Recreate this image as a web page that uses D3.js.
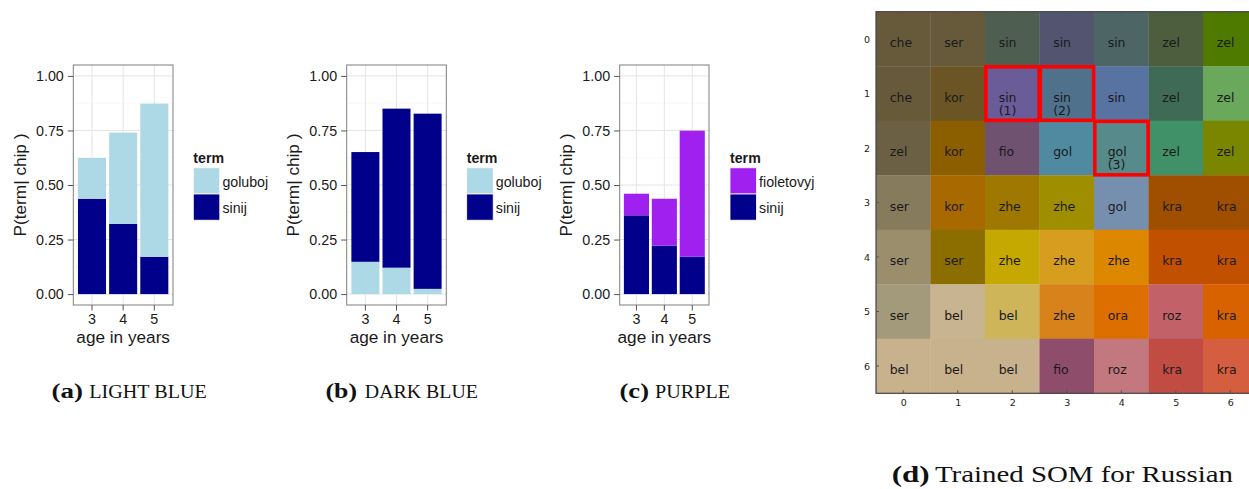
<!DOCTYPE html>
<html>
<head>
<meta charset="utf-8">
<script src="https://cdn.jsdelivr.net/npm/d3@7"></script>
<style>
  html, body { margin: 0; padding: 0; background: #ffffff; }
  svg { display: block; }
</style>
</head>
<body>
<svg id="chart" width="1249" height="489"></svg>
<script>
// ---------------- DATA ----------------
const ages = ["3", "4", "5"];
const yTicks = [0, 0.25, 0.5, 0.75, 1];
const yMinorTicks = [0.125, 0.375, 0.625, 0.875];

// (a) LIGHT BLUE chip
const lightBlueGoluboj = [0.187, 0.418, 0.702];
const lightBlueSinij   = [0.437, 0.322, 0.171];
// (b) DARK BLUE chip
const darkBlueGoluboj  = [0.148, 0.121, 0.024];
const darkBlueSinij    = [0.503, 0.729, 0.803];
// (c) PURPLE chip
const purpleFioletovyj = [0.099, 0.215, 0.578];
const purpleSinij      = [0.361, 0.222, 0.171];

const termColors = { goluboj: "#add8e6", sinij: "#00008b", fioletovyj: "#a020f0" };

const captionsBold = ["(a)", "(b)", "(c)", "(d)"];
const captionsRest = ["LIGHT BLUE", "DARK BLUE", "PURPLE", "Trained SOM for Russian"];

// (d) SOM grid
const somIndex = [0, 1, 2, 3, 4, 5, 6];
const somLabels = [
  ["che", "ser", "sin", "sin", "sin", "zel", "zel"],
  ["che", "kor", "sin\n(1)", "sin\n(2)", "sin", "zel", "zel"],
  ["zel", "kor", "fio", "gol", "gol\n(3)", "zel", "zel"],
  ["ser", "kor", "zhe", "zhe", "gol", "kra", "kra"],
  ["ser", "ser", "zhe", "zhe", "zhe", "kra", "kra"],
  ["ser", "bel", "bel", "zhe", "ora", "roz", "kra"],
  ["bel", "bel", "bel", "fio", "roz", "kra", "kra"]
];
const somColors = [
  ["#675a3b", "#675a3a", "#4e5e50", "#535570", "#4e6566", "#4c5e3e", "#4e7a00"],
  ["#675a3b", "#6c5524", "#6a5c98", "#50718c", "#5872a2", "#3f6b56", "#6aa85b"],
  ["#6c6044", "#8b5e00", "#6e5270", "#4f8aa0", "#578a8a", "#419168", "#7a8600"],
  ["#877b5d", "#a86900", "#9e7800", "#9e8e00", "#778fae", "#a04f00", "#a04f00"],
  ["#9b8e6d", "#8b6d00", "#c6a900", "#d69d1e", "#dd8600", "#c15100", "#c15100"],
  ["#a29a7b", "#c9b491", "#cfb55a", "#d7821a", "#dd6f00", "#c26168", "#d86200"],
  ["#c8b18d", "#c8b18d", "#c8b18d", "#8e4e6b", "#c2787e", "#c14c44", "#d55e40"]
];
const somHighlights = [[1, 2], [1, 3], [2, 4]];

// ---------------- DRAW ----------------
const svg = d3.select("#chart");
const sansFont = "'Liberation Sans', Arial, sans-serif";
const textCol = "#1a1a1a";

const panels = [
  { left: 73.3, right: 173, titleX: 20, legendX: 193.3,
    series: { goluboj: lightBlueGoluboj, sinij: lightBlueSinij },
    stackOrder: ["sinij", "goluboj"], legendOrder: ["goluboj", "sinij"] },
  { left: 346.7, right: 446.3, titleX: 293.3, legendX: 466.7,
    series: { goluboj: darkBlueGoluboj, sinij: darkBlueSinij },
    stackOrder: ["goluboj", "sinij"], legendOrder: ["goluboj", "sinij"] },
  { left: 619.7, right: 709, titleX: 566.3, legendX: 730,
    series: { fioletovyj: purpleFioletovyj, sinij: purpleSinij },
    stackOrder: ["sinij", "fioletovyj"], legendOrder: ["fioletovyj", "sinij"] }
];

const plotTop = 65, plotBottom = 305;
const y = d3.scaleLinear().domain([-0.05, 1.05]).range([plotBottom, plotTop]);

panels.forEach(p => {
  const g = svg.append("g");
  const x = d3.scaleBand().domain(ages).range([p.left, p.right])
    .paddingInner(0.1).paddingOuter(0.15);

  g.append("rect").attr("x", p.left).attr("y", plotTop)
    .attr("width", p.right - p.left).attr("height", plotBottom - plotTop)
    .attr("fill", "#ffffff");

  g.selectAll(null).data(yMinorTicks).enter().append("line")
    .attr("x1", p.left).attr("x2", p.right)
    .attr("y1", d => y(d)).attr("y2", d => y(d))
    .attr("stroke", "#f2f2f2").attr("stroke-width", 0.6);
  g.selectAll(null).data(yTicks).enter().append("line")
    .attr("x1", p.left).attr("x2", p.right)
    .attr("y1", d => y(d)).attr("y2", d => y(d))
    .attr("stroke", "#e5e5e5").attr("stroke-width", 1);
  g.selectAll(null).data(ages).enter().append("line")
    .attr("x1", d => x(d) + x.bandwidth() / 2).attr("x2", d => x(d) + x.bandwidth() / 2)
    .attr("y1", plotTop).attr("y2", plotBottom)
    .attr("stroke", "#e5e5e5").attr("stroke-width", 1);

  const rows = ages.map((a, i) => {
    const r = { age: a };
    Object.keys(p.series).forEach(k => { r[k] = p.series[k][i]; });
    return r;
  });
  const stacked = d3.stack().keys(p.stackOrder)(rows);
  stacked.forEach(layer => {
    g.selectAll(null).data(layer).enter().append("rect")
      .attr("x", d => x(d.data.age))
      .attr("width", x.bandwidth())
      .attr("y", d => y(d[1]))
      .attr("height", d => y(d[0]) - y(d[1]))
      .attr("fill", termColors[layer.key]);
  });

  g.append("rect").attr("x", p.left).attr("y", plotTop)
    .attr("width", p.right - p.left).attr("height", plotBottom - plotTop)
    .attr("fill", "none").attr("stroke", "#7f7f7f").attr("stroke-width", 1);

  const yAxis = d3.axisLeft(y).tickValues(yTicks).tickFormat(d3.format(".2f"))
    .tickSize(5.5).tickPadding(4);
  const ya = g.append("g").attr("transform", `translate(${p.left},0)`).call(yAxis);
  ya.select(".domain").remove();
  ya.selectAll(".tick line").attr("stroke", "#555");
  ya.selectAll(".tick text").attr("font-family", sansFont).attr("font-size", 14.3)
    .attr("fill", textCol);

  const xAxis = d3.axisBottom(x).tickSize(5.5).tickPadding(3);
  const xa = g.append("g").attr("transform", `translate(0,${plotBottom})`).call(xAxis);
  xa.select(".domain").remove();
  xa.selectAll(".tick line").attr("stroke", "#555");
  xa.selectAll(".tick text").attr("font-family", sansFont).attr("font-size", 14.3)
    .attr("fill", textCol);

  g.append("text").attr("x", (p.left + p.right) / 2).attr("y", 343)
    .attr("text-anchor", "middle").attr("font-family", sansFont).attr("font-size", 17.2)
    .attr("fill", textCol).text("age in years");
  g.append("text")
    .attr("transform", `translate(${p.titleX + 6},${(plotTop + plotBottom) / 2}) rotate(-90)`)
    .attr("text-anchor", "middle").attr("font-family", sansFont).attr("font-size", 17.2)
    .attr("fill", textCol).text("P(term| chip )");

  const lg = g.append("g");
  lg.append("text").attr("x", p.legendX).attr("y", 163.3)
    .attr("font-family", sansFont).attr("font-size", 14.2).attr("font-weight", "bold")
    .attr("fill", textCol).text("term");
  const keyH = 26.2, keyW = 26.5, key0 = 167.8;
  p.legendOrder.forEach((k, i) => {
    lg.append("rect").attr("x", p.legendX).attr("y", key0 + i * keyH)
      .attr("width", keyW).attr("height", keyH)
      .attr("fill", termColors[k]).attr("stroke", "#ffffff").attr("stroke-width", 0.8);
    lg.append("text").attr("x", p.legendX + keyW + 2.6).attr("y", key0 + i * keyH + keyH / 2 + 1)
      .attr("dominant-baseline", "central")
      .attr("font-family", sansFont).attr("font-size", 14.2).attr("fill", textCol).text(k);
  });
});

// ---------------- SOM ----------------
const somX = d3.scaleLinear().domain([-0.5, 6.5]).range([876, 1257.5]);
const somY = d3.scaleLinear().domain([-0.5, 6.5]).range([11.7, 393.3]);
const cw = somX(1) - somX(0), ch = somY(1) - somY(0);
const somG = svg.append("g");
const somFont = "'DejaVu Sans', sans-serif";

somLabels.forEach((row, r) => {
  row.forEach((lab, c) => {
    somG.append("rect")
      .attr("x", somX(c - 0.5)).attr("y", somY(r - 0.5))
      .attr("width", cw + 0.3).attr("height", ch + 0.3)
      .attr("fill", somColors[r][c]);
  });
});
somLabels.forEach((row, r) => {
  row.forEach((lab, c) => {
    const lines = lab.split("\n");
    const t = somG.append("text")
      .attr("x", somX(c - 0.25)).attr("y", somY(r) + 8.2)
      .attr("font-family", somFont).attr("font-size", 12.5).attr("fill", "#1a1a1a");
    lines.forEach((ln, i) => {
      t.append("tspan").attr("x", somX(c - 0.25)).attr("dy", i === 0 ? 0 : 13.2).text(ln);
    });
  });
});
somHighlights.forEach(([r, c]) => {
  somG.append("rect")
    .attr("x", somX(c - 0.5) + 0.8).attr("y", somY(r - 0.5) + 0.6)
    .attr("width", cw - 1.2).attr("height", ch - 1.0)
    .attr("fill", "none").attr("stroke", "#ff0000").attr("stroke-width", 3.6);
});
somG.append("rect").attr("x", somX(-0.5)).attr("y", somY(-0.5))
  .attr("width", somX(6.5) - somX(-0.5)).attr("height", somY(6.5) - somY(-0.5))
  .attr("fill", "none").attr("stroke", "#444").attr("stroke-width", 1.2);
const somTickCol = "#555";
somIndex.forEach(i => {
  somG.append("line").attr("x1", somX(i)).attr("x2", somX(i))
    .attr("y1", somY(-0.5)).attr("y2", somY(-0.5) + 3).attr("stroke", somTickCol);
  somG.append("line").attr("x1", somX(i)).attr("x2", somX(i))
    .attr("y1", somY(6.5)).attr("y2", somY(6.5) - 3).attr("stroke", somTickCol);
  somG.append("line").attr("x1", somX(-0.5)).attr("x2", somX(-0.5) + 3)
    .attr("y1", somY(i)).attr("y2", somY(i)).attr("stroke", somTickCol);
});
const somXAxis = d3.axisBottom(somX).tickValues(somIndex).tickFormat(d3.format("d"))
  .tickSize(0).tickPadding(6);
const sxa = somG.append("g").attr("transform", `translate(0,${somY(6.5)})`).call(somXAxis);
sxa.select(".domain").remove();
sxa.selectAll("text").attr("font-family", somFont).attr("font-size", 9.5).attr("fill", "#222");
const somYAxis = d3.axisLeft(somY).tickValues(somIndex).tickFormat(d3.format("d"))
  .tickSize(0).tickPadding(6);
const sya = somG.append("g").attr("transform", `translate(${somX(-0.5)},0)`).call(somYAxis);
sya.select(".domain").remove();
sya.selectAll("text").attr("font-family", somFont).attr("font-size", 9.5).attr("fill", "#222");

// ---------------- CAPTIONS ----------------
const serif = "'Liberation Serif', 'DejaVu Serif', serif";
const capPos = [
  { bx: 51.5, bw: 31.5, rx: 89.3, rw: 117.4, y: 398.3, bs: 20.5, rs: 18.5 },
  { bx: 325.5, bw: 31.5, rx: 364.8, rw: 113.2, y: 398.3, bs: 20.5, rs: 18.5 },
  { bx: 619.5, bw: 29.5, rx: 655.0, rw: 75.0, y: 398.3, bs: 20.5, rs: 18.5 },
  { bx: 891.7, bw: 38.0, rx: 935.0, rw: 298.0, y: 482.3, bs: 23, rs: 23 }
];
capPos.forEach((cp, i) => {
  svg.append("text").attr("x", cp.bx).attr("y", cp.y)
    .attr("font-family", serif).attr("font-weight", "bold").attr("font-size", cp.bs)
    .attr("fill", "#111").attr("textLength", cp.bw).attr("lengthAdjust", "spacingAndGlyphs")
    .text(captionsBold[i]);
  svg.append("text").attr("x", cp.rx).attr("y", cp.y)
    .attr("font-family", serif).attr("font-size", cp.rs)
    .attr("fill", "#111").attr("textLength", cp.rw).attr("lengthAdjust", "spacingAndGlyphs")
    .text(captionsRest[i]);
});
</script>
</body>
</html>
